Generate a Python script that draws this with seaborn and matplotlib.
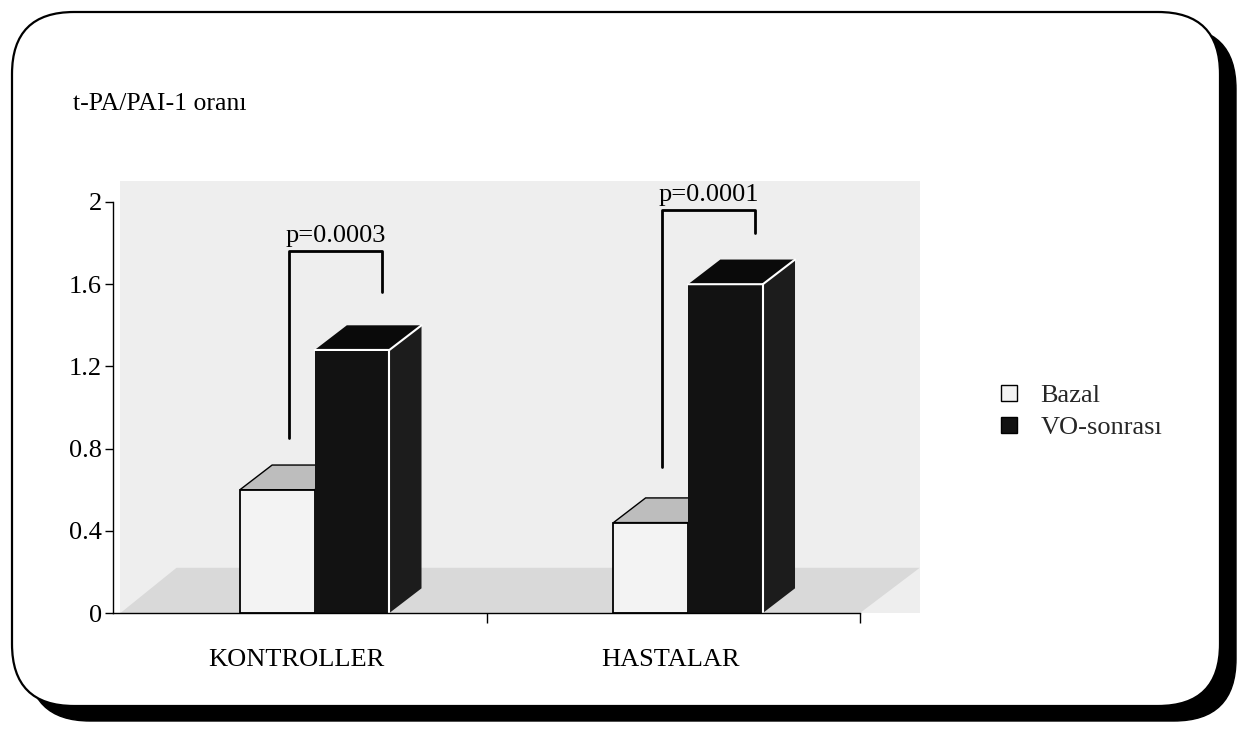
import matplotlib
matplotlib.use("Agg")
import numpy as np
import pandas as pd
import matplotlib.pyplot as plt
import seaborn as sns
from matplotlib.patches import Polygon, Rectangle, FancyBboxPatch, Patch
import matplotlib.transforms as mtransforms

# ---------------- data ----------------
categories = ["KONTROLLER", "HASTALAR"]
series_names = ["Bazal", "VO-sonrası"]
bazal_values = [0.60, 0.44]
vo_values = [1.28, 1.60]
p_labels = ["p=0.0003", "p=0.0001"]
bracket_left_low = [0.85, 0.71]
bracket_top = [1.76, 1.96]
bracket_right_low = [1.56, 1.85]
y_ticks = [0.0, 0.4, 0.8, 1.2, 1.6, 2.0]
y_tick_labels = ["0", "0.4", "0.8", "1.2", "1.6", "2"]
y_title = "t-PA/PAI-1 oranı"

df = pd.DataFrame({
    "kategori": categories + categories,
    "grup": [series_names[0]] * len(categories) + [series_names[1]] * len(categories),
    "oran": bazal_values + vo_values,
})

sns.set_theme(style="white")
plt.rcParams["font.family"] = ["Liberation Serif", "DejaVu Serif"]

W, H = 1244, 729
fig = plt.figure(figsize=(W / 100, H / 100), dpi=100)
fig.patch.set_facecolor("white")

# ---------------- rounded frame with shadow ----------------
bg = fig.add_axes([0, 0, 1, 1], zorder=-10)
bg.set_xlim(0, W)
bg.set_ylim(0, H)
bg.axis("off")
box_l, box_r, box_t, box_b = 12, 1220, 12, 706
shadow = FancyBboxPatch((box_l + 16, H - box_b - 15), box_r - box_l, box_b - box_t,
                        boxstyle="round,pad=0,rounding_size=62", fc="black", ec="black", lw=1)
bg.add_patch(shadow)
frame = FancyBboxPatch((box_l, H - box_b), box_r - box_l, box_b - box_t,
                       boxstyle="round,pad=0,rounding_size=62", fc="white", ec="black", lw=1.6)
bg.add_patch(frame)

# ---------------- main axes ----------------
ax = fig.add_axes([113 / W, 1 - 613 / H, 747 / W, 411 / H])
ax.set_facecolor("none")
sns.barplot(data=df, x="kategori", y="oran", hue="grup", order=categories,
            hue_order=series_names, palette=["#f3f3f3", "#121212"], saturation=1,
            width=0.4, errorbar=None, ax=ax, legend=False)
ax.set_xlim(-0.54, 1.46)
ax.set_ylim(0, 2)

# back wall and floor (3D look)
ax.add_patch(Rectangle((-0.52, 0), 2.14, 2.1, fc="#eeeeee", ec="none", zorder=0, clip_on=False))
ax.add_patch(Polygon([(-0.52, 0), (1.46, 0), (1.62, 0.22), (-0.37, 0.22)], closed=True,
                     fc="#d9d9d9", ec="none", zorder=0.5, clip_on=False))

# 3D faces of bars
dx, dy = 0.086, 0.12
for ci, cont in enumerate(ax.containers):
    for bar in cont:
        x, w, h = bar.get_x(), bar.get_width(), bar.get_height()
        top = [(x, h), (x + w, h), (x + w + dx, h + dy), (x + dx, h + dy)]
        side = [(x + w, 0), (x + w, h), (x + w + dx, h + dy), (x + w + dx, dy)]
        if ci == 0:
            bar.set_edgecolor("black")
            bar.set_linewidth(1.3)
            bar.set_zorder(3)
            ax.add_patch(Polygon(top, closed=True, fc="#bdbdbd", ec="black", lw=1.0, zorder=2.9))
            ax.add_patch(Polygon(side, closed=True, fc="#dcdcdc", ec="black", lw=1.0, zorder=2.8))
        else:
            bar.set_edgecolor("none")
            bar.set_zorder(5)
            ax.add_patch(Polygon(top, closed=True, fc="#0a0a0a", ec="none", zorder=4.9))
            ax.add_patch(Polygon(side, closed=True, fc="#1c1c1c", ec="none", zorder=4.9))
            ax.plot([x, x + w, x + w + dx], [h, h, h + dy], color="white", lw=1.5, zorder=6)
            ax.plot([x + w, x + w], [0, h], color="white", lw=1.5, zorder=6)

# significance brackets
baz = ax.containers[0]
vo = ax.containers[1]
for i in range(len(categories)):
    bl = baz[i].get_x() + baz[i].get_width() / 2 + 0.03
    br = vo[i].get_x() + vo[i].get_width() / 2 + 0.08
    ax.plot([bl, bl, br, br],
            [bracket_left_low[i], bracket_top[i], bracket_top[i], bracket_right_low[i]],
            color="black", lw=2, zorder=7, clip_on=False)
    ax.text((bl + br) / 2, bracket_top[i] + 0.045, p_labels[i], ha="center", va="baseline",
            fontsize=19, zorder=7, color="black")

# axes styling
for s in ["top", "right"]:
    ax.spines[s].set_visible(False)
for s in ["left", "bottom"]:
    ax.spines[s].set_color("black")
    ax.spines[s].set_linewidth(1.0)
    ax.spines[s].set_zorder(8)
ax.set_yticks(y_ticks)
ax.set_yticklabels(y_tick_labels, fontsize=19, color="black")
ax.tick_params(axis="y", direction="out", length=6, width=1, color="black", pad=2, left=True)
ax.set_xticks(range(len(categories)))
ax.set_xticklabels(categories, fontsize=19, color="black")
ax.tick_params(axis="x", which="major", length=0, pad=26)
ax.set_xticks([0.46, 1.46], minor=True)
ax.tick_params(axis="x", which="minor", length=7, width=1, direction="out", bottom=True, color="black")
ax.set_xlabel("")
ax.set_ylabel("")
offset = mtransforms.ScaledTranslation(-0.18, 0, fig.dpi_scale_trans)
for lab in ax.get_xticklabels():
    lab.set_transform(lab.get_transform() + offset)

# y title
fig.text(73 / W, 1 - 110 / H, y_title, fontsize=18.5, va="baseline", ha="left", color="black")

# legend
handles = [Patch(fc="#f3f3f3", ec="black", lw=1), Patch(fc="#121212", ec="black", lw=1)]
fig.legend(handles, series_names, loc="center left", bbox_to_anchor=(1001 / W, 1 - 412 / H),
           frameon=False, fontsize=19, handlelength=0.6, handleheight=0.6, handletextpad=0.9,
           labelspacing=0.35, borderpad=0, borderaxespad=0)

fig.savefig("out.png", dpi=100)
